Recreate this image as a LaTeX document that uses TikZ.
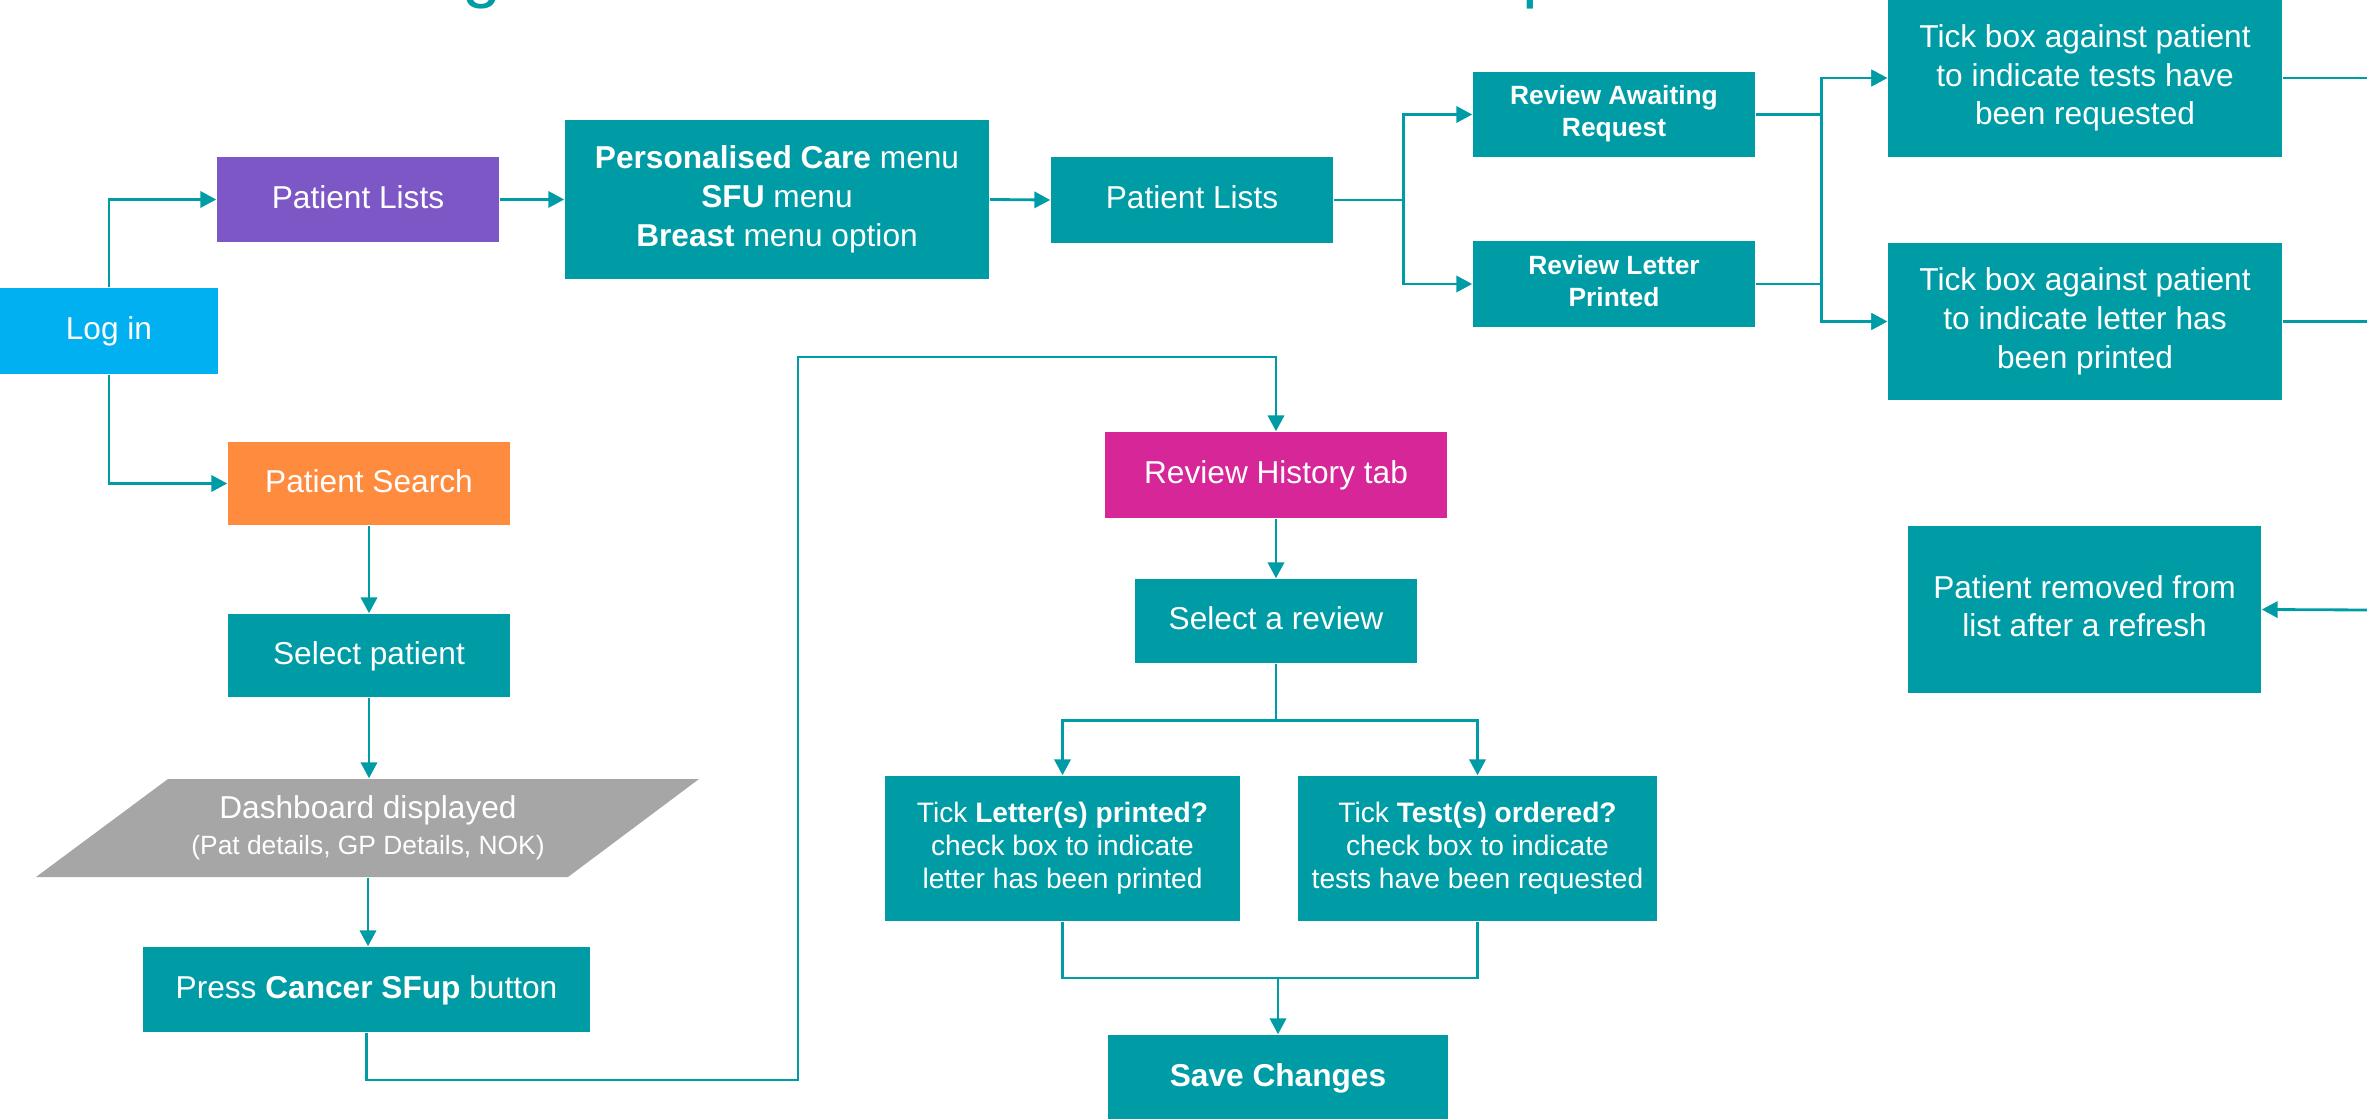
\documentclass[tikz,border=0pt]{standalone}
\usepackage{fontspec}
\setmainfont{Liberation Sans}
\usetikzlibrary{arrows.meta}
\definecolor{flowteal}{RGB}{0,156,166}
\definecolor{loginblue}{RGB}{0,176,240}
\definecolor{listpurple}{RGB}{126,87,199}
\definecolor{searchorange}{RGB}{255,139,62}
\definecolor{historypink}{RGB}{214,38,152}
\definecolor{dashgrey}{RGB}{166,166,166}
% uniform line extents so that text blocks sit evenly in their boxes
\newcommand\firstlinestrut{\rule[-1.9pt]{0pt}{8.7pt}}
\newcommand\lastlinestrut{\rule[-1.9pt]{0pt}{0pt}}
\begin{document}
\begin{tikzpicture}[x=0.01cm,y=-0.01cm,
  boxtext/.style={text=white, align=center, inner sep=0pt,
    execute at begin node=\firstlinestrut,
    execute at end node=\lastlinestrut},
  box/.style={rectangle, fill=#1, boxtext, font=\fontsize{9}{11}\selectfont},
  box/.default=flowteal,
  small/.style={font=\fontsize{8}{9.3}\selectfont},
  conn/.style={draw=flowteal, line width=0.8pt},
  arr/.style={conn, -{Triangle[length=4.5pt,width=4.6pt]}}]
\useasboundingbox (0,0) rectangle (2367,1119);

% heading, mostly above the page edge
\node[anchor=base west, inner sep=0pt, text=flowteal,
  font=\fontsize{20}{24}\selectfont] (headg) at (462,-5) {g};
\node[anchor=base west, inner sep=0pt, text=flowteal,
  font=\fontsize{20}{24}\selectfont] (headp) at (1522,-5) {p};

% entry
\node[box=loginblue, minimum width=2.18cm, minimum height=0.86cm] (login) at (109,331) {Log in};

% patient list route
\node[box=listpurple, minimum width=2.82cm, minimum height=0.85cm] (plist1) at (358,199.5) {Patient Lists};
\node[box, minimum width=4.24cm, minimum height=1.59cm] (pcare) at (777,199.5)
  {\textbf{Personalised Care} menu\\\textbf{SFU} menu\\\textbf{Breast} menu option};
\node[box, minimum width=2.82cm, minimum height=0.86cm] (plist2) at (1192,200) {Patient Lists};
\node[box, minimum width=2.82cm, minimum height=0.85cm,
  font=\fontsize{7.5}{9}\selectfont\bfseries] (rawait) at (1614,114.5) {Review Awaiting\\Request};
\node[box, minimum width=2.82cm, minimum height=0.86cm,
  font=\fontsize{7.5}{9}\selectfont\bfseries] (rletter) at (1614,284) {Review Letter\\Printed};
\node[box, minimum width=3.94cm, minimum height=1.58cm] (ticktests) at (2085,78)
  {Tick box against patient\\to indicate tests have\\been requested};
\node[box, minimum width=3.94cm, minimum height=1.57cm] (tickletter) at (2085,321.5)
  {Tick box against patient\\to indicate letter has\\been printed};
\node[box, minimum width=3.53cm, minimum height=1.67cm] (removed) at (2084.5,609.5)
  {Patient removed from\\list after a refresh};
\coordinate (outA) at (2367,78);
\coordinate (outB) at (2367,321.5);
\coordinate (inC) at (2367,610);

% patient search route
\node[box=searchorange, minimum width=2.82cm, minimum height=0.83cm] (psearch) at (369,483.5) {Patient Search};
\node[box, minimum width=2.82cm, minimum height=0.83cm] (selpat) at (369,655.5) {Select patient};
\fill[dashgrey] (168,779) -- (699,779) -- (568,877) -- (36,877) -- cycle;
\node[rectangle, boxtext, minimum width=3.9cm, minimum height=0.98cm,
  font=\fontsize{9}{10.3}\selectfont] (dash) at (368,828)
  {Dashboard displayed\\{\fontsize{7.5}{9}\selectfont(Pat details, GP Details, NOK)}};
\node[box, minimum width=4.47cm, minimum height=0.85cm] (press) at (366.5,989.5)
  {Press \textbf{Cancer SFup} button};

% review history route
\node[box=historypink, minimum width=3.42cm, minimum height=0.86cm] (rhist) at (1276,475) {Review History tab};
\node[box, minimum width=2.82cm, minimum height=0.84cm] (selrev) at (1276,621) {Select a review};
\node[box, small, minimum width=3.55cm, minimum height=1.45cm] (ticklp) at (1062.5,848.5)
  {Tick \textbf{Letter(s) printed?}\\check box to indicate\\letter has been printed};
\node[box, small, minimum width=3.59cm, minimum height=1.45cm] (ticktst) at (1477.5,848.5)
  {Tick \textbf{Test(s) ordered?}\\check box to indicate\\tests have been requested};
\node[box, minimum width=3.4cm, minimum height=0.86cm] (save) at (1278,1078) {\textbf{Save Changes}};
\coordinate (loopA) at (798,1080);
\coordinate (loopB) at (798,357);
\coordinate (merge) at (1278,978);

% connectors
\draw[arr] (login.north) |- (plist1.west);
\draw[arr] (login.south) |- (psearch.west);
\draw[arr] (plist1.east) -- (pcare.west);
\draw[arr] (pcare.east) -- (plist2.west);
\draw[arr] (plist2.east) -- ++(70,0) |- (rawait.west);
\draw[arr] (plist2.east) -- ++(70,0) |- (rletter.west);
\draw[arr] (rawait.east) -- ++(66,0) |- (ticktests.west);
\draw[arr] (rawait.east) -- ++(66,0) |- (tickletter.west);
\draw[arr] (rletter.east) -- ++(66,0) |- (ticktests.west);
\draw[arr] (rletter.east) -- ++(66,0) |- (tickletter.west);
\draw[conn] (ticktests.east) -- (outA);
\draw[conn] (tickletter.east) -- (outB);
\draw[arr] (inC) -- (removed.east);

\draw[arr] (psearch.south) -- (psearch.south |- selpat.north);
\draw[arr] (selpat.south) -- (selpat.south |- dash.north);
\draw[arr] (dash.south) -- (dash.south |- press.north);
\draw[arr] (press.south) |- (loopA) -- (loopB) -| (rhist.north);
\draw[arr] (rhist.south) -- (selrev.north);
\draw[arr] (selrev.south) -- ++(0,57) -| (ticklp.north);
\draw[arr] (selrev.south) -- ++(0,57) -| (ticktst.north);
\draw[conn] (ticklp.south) |- (merge);
\draw[conn] (ticktst.south) |- (merge);
\draw[arr] (merge) -- (save.north);
\end{tikzpicture}
\end{document}
